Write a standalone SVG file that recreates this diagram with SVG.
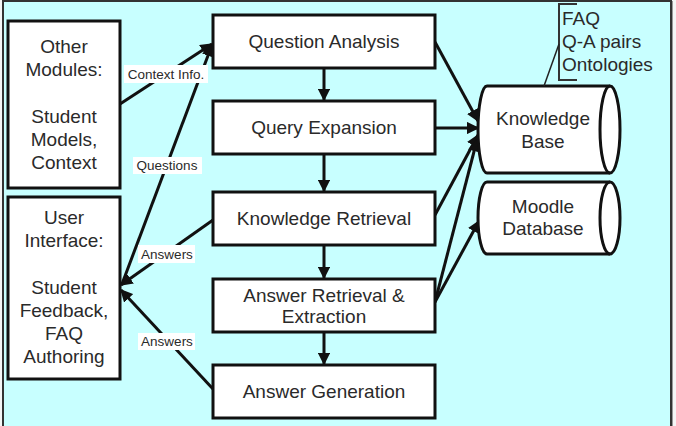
<svg xmlns="http://www.w3.org/2000/svg" width="676" height="426" viewBox="0 0 676 426">
<style>
.box{fill:#fff;stroke:#111;stroke-width:3}
.t{font-family:"Liberation Sans",Arial,sans-serif;font-size:19px;fill:#2a2a2a;text-anchor:middle}
.tl{font-family:"Liberation Sans",Arial,sans-serif;font-size:19px;fill:#2a2a2a}
.lbl{font-family:"Liberation Sans",Arial,sans-serif;font-size:13.5px;fill:#2a2a2a;text-anchor:middle}
.lb{fill:#fff}
.c{fill:none;stroke:#111;stroke-width:3}
</style>
<defs>
<marker id="ah" viewBox="0 0 10 10" refX="9" refY="5" markerWidth="4.2" markerHeight="4.2" markerUnits="strokeWidth" orient="auto">
<path d="M0,0 L10,5 L0,10 z" fill="#111"/>
</marker>
</defs>
<rect x="0" y="0" width="676" height="426" fill="#f4f6f6"/>
<rect x="3" y="1" width="668" height="430" fill="#c8ffff" stroke="#333" stroke-width="2"/>
<line x1="672.5" y1="1" x2="672.5" y2="426" stroke="#999" stroke-width="1"/>

<g id="connectors">
<line class="c" x1="324" y1="68" x2="324" y2="100" marker-end="url(#ah)"/>
<line class="c" x1="324" y1="154" x2="324" y2="191" marker-end="url(#ah)"/>
<line class="c" x1="324" y1="245" x2="324" y2="278" marker-end="url(#ah)"/>
<line class="c" x1="324" y1="332" x2="324" y2="364" marker-end="url(#ah)"/>
<line class="c" x1="120" y1="104" x2="212" y2="44" marker-end="url(#ah)"/>
<line class="c" x1="122" y1="284" x2="212" y2="45" marker-end="url(#ah)"/>
<line class="c" x1="213" y1="220" x2="121" y2="285" marker-end="url(#ah)"/>
<line class="c" x1="213" y1="389" x2="121" y2="290" marker-end="url(#ah)"/>
<line class="c" x1="435" y1="42" x2="478" y2="121" marker-end="url(#ah)"/>
<line class="c" x1="435" y1="128" x2="478" y2="128" marker-end="url(#ah)"/>
<line class="c" x1="435" y1="215" x2="478" y2="135" marker-end="url(#ah)"/>
<line class="c" x1="435" y1="302" x2="477" y2="140" marker-end="url(#ah)"/>
<line class="c" x1="435" y1="302" x2="479" y2="221" marker-end="url(#ah)"/>
<rect class="lb" x="124" y="65" width="84" height="18"/>
<text class="lbl" x="166" y="79">Context Info.</text>
<rect class="lb" x="133" y="157" width="69" height="17"/>
<text class="lbl" x="167" y="170">Questions</text>
<rect class="lb" x="138" y="245" width="57" height="18"/>
<text class="lbl" x="167" y="259">Answers</text>
<rect class="lb" x="138" y="333" width="57" height="17"/>
<text class="lbl" x="167" y="346">Answers</text>
</g>

<g id="other-modules">
<rect class="box" x="8" y="21" width="112" height="167"/>
<text class="t" x="64" y="53">Other</text>
<text class="t" x="64" y="76">Modules:</text>
<text class="t" x="64" y="123">Student</text>
<text class="t" x="64" y="146">Models,</text>
<text class="t" x="64" y="169">Context</text>
</g>

<g id="user-interface">
<rect class="box" x="8" y="197" width="112" height="182"/>
<text class="t" x="64" y="224">User</text>
<text class="t" x="64" y="247">Interface:</text>
<text class="t" x="64" y="294">Student</text>
<text class="t" x="64" y="317">Feedback,</text>
<text class="t" x="64" y="340">FAQ</text>
<text class="t" x="64" y="363">Authoring</text>
</g>

<g id="question-analysis">
<rect class="box" x="213" y="15" width="222" height="53"/>
<text class="t" x="324" y="48">Question Analysis</text>
</g>
<g id="query-expansion">
<rect class="box" x="213" y="101" width="222" height="53"/>
<text class="t" x="324" y="134">Query Expansion</text>
</g>
<g id="knowledge-retrieval">
<rect class="box" x="213" y="192" width="222" height="53"/>
<text class="t" x="324" y="225">Knowledge Retrieval</text>
</g>
<g id="answer-retrieval">
<rect class="box" x="213" y="279" width="222" height="53"/>
<text class="t" x="324" y="302">Answer Retrieval &amp;</text>
<text class="t" x="324" y="323">Extraction</text>
</g>
<g id="answer-generation">
<rect class="box" x="213" y="365" width="222" height="53"/>
<text class="t" x="324" y="398">Answer Generation</text>
</g>

<g id="knowledge-base">
<path class="box" d="M487,86 L610,86 A10,43.5 0 0 1 610,173 L487,173 A9,43.5 0 0 1 487,86 Z"/>
<path class="c" d="M610,86 A10,43.5 0 0 0 610,173"/>
<text class="t" x="543" y="125">Knowledge</text>
<text class="t" x="543" y="148">Base</text>
</g>

<g id="moodle-database">
<path class="box" d="M487,182 L610,182 A10,36 0 0 1 610,254 L487,254 A9,36 0 0 1 487,182 Z"/>
<path class="c" d="M610,182 A10,36 0 0 0 610,254"/>
<text class="t" x="543" y="213">Moodle</text>
<text class="t" x="543" y="235">Database</text>
</g>

<g id="faq-note">
<path d="M577,4 L559,4 L559,80 L577,80" fill="none" stroke="#333" stroke-width="2"/>
<line x1="559" y1="44" x2="544" y2="86" stroke="#222" stroke-width="1.5"/>
<text class="tl" x="562" y="25">FAQ</text>
<text class="tl" x="562" y="48">Q-A pairs</text>
<text class="tl" x="562" y="71">Ontologies</text>
</g>
</svg>
